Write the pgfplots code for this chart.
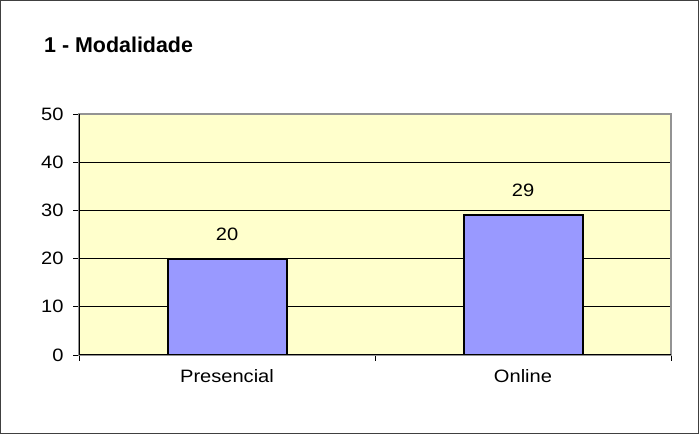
\documentclass[border=0pt]{standalone}
\usepackage{fontspec}
\setmainfont{Liberation Sans}
\newfontfamily\tickfont[FakeStretch=1.12]{Liberation Sans}
\usepackage{pgfplots}
\pgfplotsset{compat=1.18}
\definecolor{bg}{HTML}{FFFFCC}
\definecolor{barc}{HTML}{9999FF}
\begin{document}
\begin{tikzpicture}
\useasboundingbox (0,0) rectangle (699bp,434bp);
\draw[line width=1bp, black!75] (0.5bp,0.5bp) rectangle (698.5bp,433.5bp);
\node[anchor=west, inner sep=0pt, font=\fontsize{21.5}{25}\selectfont\bfseries] at (44bp,389bp) {1 - Modalidade};
\begin{axis}[
  at={(79bp,79bp)}, anchor=south west,
  scale only axis, width=592bp, height=241bp,
  xmin=-0.5, xmax=1.5, ymin=0, ymax=50,
  ytick={0,10,...,50},
  ymajorgrids, grid style={black, line width=0.8bp},
  xtick={-0.5,0.5,1.5}, xticklabels={},
  extra x ticks={0,1}, extra x tick labels={Presencial,Online},
  extra x tick style={major tick length=0pt, grid=none},
  tick pos=left,
  axis background/.style={fill=bg},
  axis line style={draw=gray!85, line width=1.6bp},
  tick style={black, line width=0.8bp},
  major tick length=6bp, tick align=outside,
  tick label style={font=\tickfont\fontsize{18}{21}\selectfont},
  yticklabel style={xshift=-6bp},
  xticklabel style={yshift=-11bp},
  /pgf/number format/assume math mode=true,
  ybar, bar width=119bp,
  nodes near coords,
  every node near coord/.append style={font=\tickfont\fontsize{18}{21}\selectfont, yshift=14bp},
]
\addplot[fill=barc, draw=black, line width=2bp] coordinates {(0,20) (1,29)};
\draw[black, line width=1bp] (axis cs:-0.5,0) -- (axis cs:-0.5,50);
\draw[black, line width=1bp] (axis cs:-0.5,0) -- (axis cs:1.5,0);
\end{axis}
\end{tikzpicture}
\end{document}
